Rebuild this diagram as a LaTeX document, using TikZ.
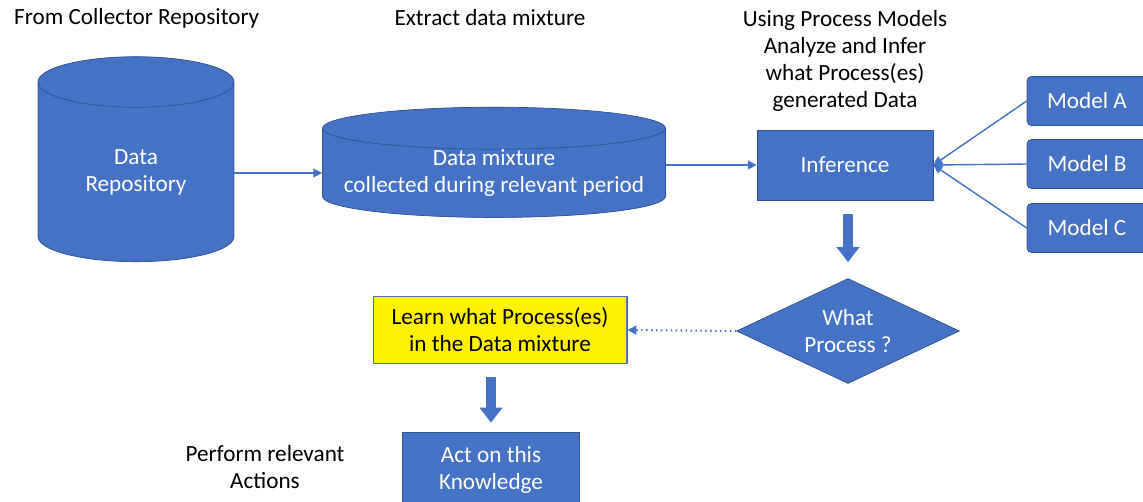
\documentclass[tikz,border=0pt]{standalone}
\usepackage{fontspec}
\setmainfont{Carlito}
\usetikzlibrary{shapes.geometric,shapes.symbols,arrows.meta}
\definecolor{boxblue}{HTML}{4472C4}
\definecolor{topblue}{HTML}{8FAADC}
\definecolor{edgeblue}{HTML}{2F528F}
\begin{document}
\begin{tikzpicture}[x=0.02cm, y=-0.02cm,
  every node/.style={font=\fontsize{13.2}{15.3}\selectfont},
  blk/.style={draw=edgeblue, line width=0.4pt, fill=boxblue, text=white, align=center, inner sep=0pt},
  db/.style={blk, cylinder, shape border rotate=90, cylinder uses custom fill, cylinder body fill=boxblue, cylinder end fill=topblue},
  model/.style={blk, rounded corners=2.5pt, minimum width=2.4cm, minimum height=0.98cm},
  thin arrow/.style={draw=boxblue, line width=0.8pt, -{Triangle[length=5pt,width=5pt]}},
  big arrow/.style={draw=boxblue, line width=0.2cm, -{Triangle[length=0.3cm,width=0.44cm]}}
]
\useasboundingbox (0,0) rectangle (1143,501);
% titles
\node[anchor=west] (t1) at (8,18) {From Collector Repository};
\node (t2) at (490,18) {Extract data mixture};
\node[align=center] (t3) at (845,61) {Using Process Models\\Analyze and Infer\\what Process(es)\\generated Data};
\node[align=center] (t4) at (265,467) {Perform relevant\\Actions};
% stores
\node[db, aspect=0.5, minimum width=3.92cm, minimum height=4.1cm] (repo) at (136,172) {Data\\Repository};
\node[db, aspect=0.14, minimum width=6.86cm, minimum height=1.94cm] (mix) at (494,173) {Data mixture\\collected during relevant period};
% inference and models
\node[blk, minimum width=3.52cm, minimum height=1.4cm] (inf) at (845,165) {Inference};
\node[model] (ma) at (1087,101) {Model A};
\node[model] (mb) at (1087,164) {Model B};
\node[model] (mc) at (1087,228) {Model C};
\node[blk, diamond, aspect=2.12, minimum width=4.46cm, minimum height=2.1cm] (proc) at (848,331) {What\\Process ?};
\node[draw=boxblue, line width=0.6pt, fill=yellow, align=center, minimum width=5.08cm, minimum height=1.34cm] (learn) at (500,330) {Learn what Process(es)\\in the Data mixture};
\node[blk, minimum width=3.54cm, minimum height=1.52cm] (act) at (491,470) {Act on this\\Knowledge};
% connectors
\draw[thin arrow] (repo.east |- mix.east) -- (mix.west);
\draw[thin arrow] (mix.east |- inf.west) -- (inf.west);
\foreach \m in {ma,mb,mc}
  \draw[thin arrow] (\m.west) -- (inf.east);
\draw[big arrow, shorten <=0.28cm, shorten >=0.32cm] (inf.south -| proc.north) -- (proc.north);
\draw[thin arrow, dotted, line width=1.2pt] (proc.west) -- (learn.east);
\draw[big arrow, shorten <=0.26cm, shorten >=0.18cm] (act.north |- learn.south) -- (act.north);
\end{tikzpicture}
\end{document}
